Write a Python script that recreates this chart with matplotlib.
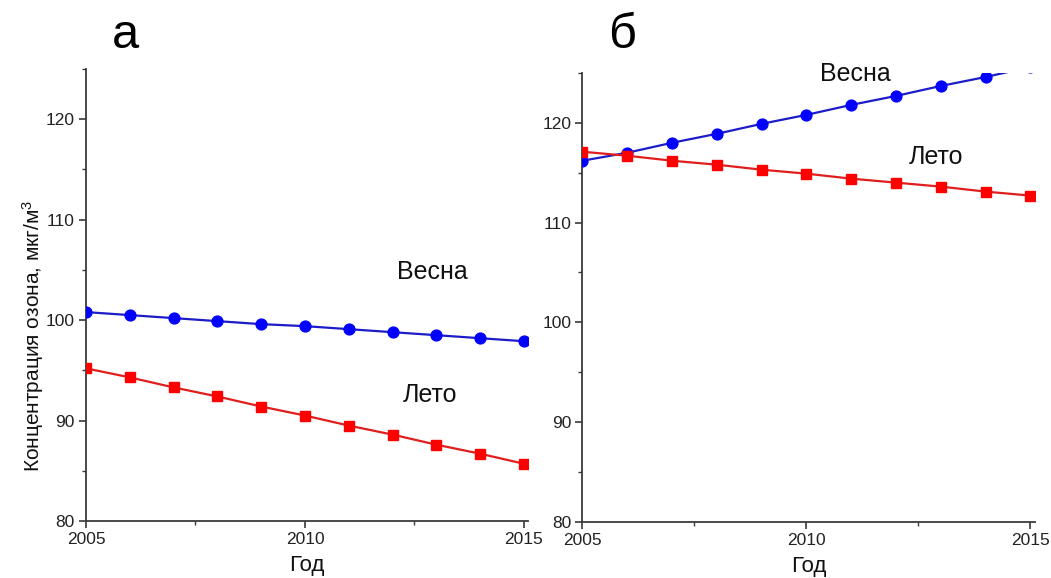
import matplotlib
matplotlib.use("Agg")
import matplotlib.pyplot as plt
from matplotlib.ticker import MultipleLocator

plt.rcParams['font.family'] = ['Liberation Sans', 'DejaVu Sans']
plt.rcParams['mathtext.fontset'] = 'custom'
plt.rcParams['mathtext.rm'] = 'Liberation Sans'
plt.rcParams['mathtext.it'] = 'Liberation Sans'

years = [2005, 2006, 2007, 2008, 2009, 2010, 2011, 2012, 2013, 2014, 2015]

# Panel а
spring_a = [100.8, 100.5, 100.2, 99.9, 99.6, 99.4, 99.1, 98.8, 98.5, 98.2, 97.9]
summer_a = [95.2, 94.3, 93.3, 92.4, 91.4, 90.5, 89.5, 88.6, 87.6, 86.7, 85.7]

# Panel б
spring_b = [116.2, 117.0, 118.0, 118.9, 119.9, 120.8, 121.8, 122.7, 123.7, 124.6, 125.6]
summer_b = [117.1, 116.7, 116.2, 115.8, 115.3, 114.9, 114.4, 114.0, 113.6, 113.1, 112.7]

xticks = [2005, 2010, 2015]
yticks = [80, 90, 100, 110, 120]
panel_labels = ['а', 'б']
series_names = ['Весна', 'Лето']
xlabel = 'Год'
ylabel = r'Концентрация озона, мкг/м$^3$'

fig = plt.figure(figsize=(10.51, 5.78), dpi=100)
ax_a = fig.add_axes([0.0818, 0.0986, 0.4209, 0.782])
ax_b = fig.add_axes([0.5542, 0.0977, 0.4305, 0.776])

blue_line = '#1c1cc8'
blue_mark = '#0000ff'
red_line = '#e01e1e'
red_mark = '#ff0000'
spine_col = '#3a3a3a'

def style(ax):
    ax.set_xlim(2005, 2015.1)
    ax.set_ylim(80, 125)
    for s in ['top', 'right']:
        ax.spines[s].set_visible(False)
    for s in ['left', 'bottom']:
        ax.spines[s].set_color(spine_col)
        ax.spines[s].set_linewidth(1.3)
    ax.set_xticks(xticks)
    ax.set_yticks(yticks)
    ax.xaxis.set_minor_locator(MultipleLocator(2.5))
    ax.yaxis.set_minor_locator(MultipleLocator(5))
    ax.tick_params(which='major', direction='out', length=5, width=1.2,
                   color=spine_col, labelsize=12.5, labelcolor='#222222', pad=3)
    ax.tick_params(which='minor', direction='out', length=3, width=1.0,
                   color=spine_col)
    ax.set_xlabel(xlabel, fontsize=16, labelpad=6, color='#111111')

for ax, sp, su in [(ax_a, spring_a, summer_a), (ax_b, spring_b, summer_b)]:
    ax.plot(years, sp, '-', color=blue_line, lw=1.6, marker='o', ms=7.8,
            mfc=blue_mark, mec=blue_mark, clip_on=True, zorder=3)
    ax.plot(years, su, '-', color=red_line, lw=1.6, marker='s', ms=6.5,
            mfc=red_mark, mec=red_mark, clip_on=True, zorder=3)
    style(ax)

ax_a.text(2012.9, 104.8, series_names[0], fontsize=18, ha='center', va='center', color='#111111')
ax_a.text(2012.85, 92.5, series_names[1], fontsize=18, ha='center', va='center', color='#111111')
ax_b.text(2011.1, 124.9, series_names[0], fontsize=18, ha='center', va='center', color='#111111')
ax_b.text(2012.9, 116.6, series_names[1], fontsize=18, ha='center', va='center', color='#111111')

fig.text(125 / 1051, 1 - 48 / 578, panel_labels[0], fontsize=35, ha='center', va='baseline')
fig.text(622 / 1051, 1 - 48 / 578, panel_labels[1], fontsize=35, ha='center', va='baseline')

fig.text(33 / 1051, 1 - 336 / 578, ylabel, fontsize=15, rotation=90,
         ha='center', va='center', color='#111111')

fig.savefig('out.png', dpi=100, facecolor='white')
